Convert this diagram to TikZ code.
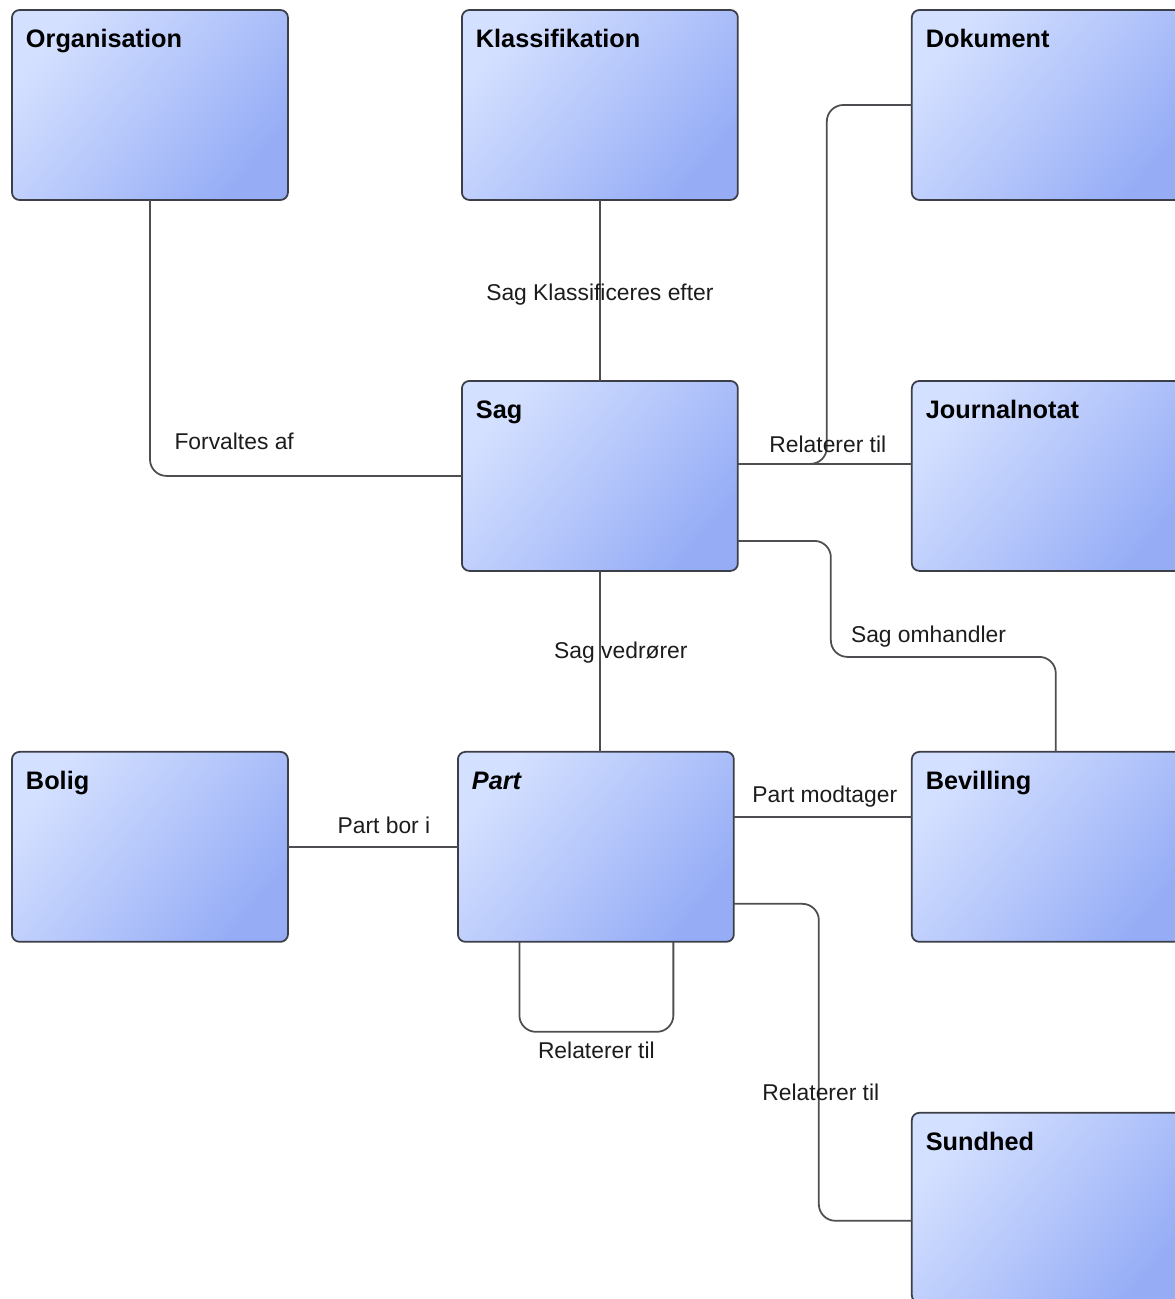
\documentclass[tikz,border=0pt]{standalone}
\usepackage{fontspec}
\setsansfont{Liberation Sans}
\usetikzlibrary{
  positioning,  % Function "of" (e.g. [right=of x])
  shadings,
}
\definecolor{boxlight}{RGB}{212,224,255}
\definecolor{boxdark}{RGB}{150,173,246}
\definecolor{boxline}{RGB}{60,62,72}
\definecolor{linkline}{RGB}{78,78,82}
\definecolor{labeltext}{RGB}{28,28,28}
\def\myvdist{3.62cm}
\def\myhdist{3.48cm}
\tikzset{
  font=\sffamily,
  my box/.style={
    draw=boxline,
    line width=1pt,
    rounded corners=1.5mm,
    top color=boxlight,
    bottom color=boxdark,
    shading angle=50,
    text width=4.96cm,
    text height=0.48cm,
    text depth=2.76cm,
    inner sep=0.28cm,
    outer sep=0pt,
    align=left,
    text=black,
    font=\sffamily\bfseries\fontsize{14.4}{16}\selectfont
  },
  my label/.style={
    text=labeltext,
    inner sep=0pt,
    font=\sffamily\fontsize{13}{15}\selectfont
  },
  my link/.style={
    draw=linkline,
    line width=1pt,
    rounded corners=0.33cm
  },
  diagram/.style={
    x=0.02cm,
    y=-0.02cm,
    node distance=\myvdist and \myhdist
  }
}

\begin{document}
\begin{tikzpicture}[diagram]
\useasboundingbox (0,0) rectangle (1174,1299);
% boxes
\node[my box, anchor=north west] (org) at (12,10) {Organisation};
\node[my box, right=of org] (kla) {Klassifikation};
\node[my box, right=of kla] (dok) {Dokument};
\node[my box, below=of kla] (sag) {Sag};
\node[my box, right=of sag] (jou) {Journalnotat};
\node[my box, below=of sag, xshift=-0.08cm] (part) {\itshape Part};
\node[my box, left=3.4cm of part] (bol) {Bolig};
\node[my box, below=of jou] (bev) {Bevilling};
\node[my box, below=3.42cm of bev] (sun) {Sundhed};
% links
\draw[my link] (org.south) |- node[my label, pos=0.635, yshift=0.7cm] {Forvaltes af} (sag.west);
\draw[my link] (kla.south) -- node[my label, yshift=-0.09cm] {Sag Klassificeres efter} (sag.north);
\draw[my link] (dok.west) -- ++(-85,0) |- ([yshift=0.24cm]sag.east);
\draw[my link] ([yshift=0.24cm]sag.east) -- node[my label, xshift=0.06cm, yshift=0.4cm] {Relaterer til} ([yshift=0.24cm]jou.west);
\draw[my link] ([yshift=-1.3cm]sag.east) -- ++(93,0) -- ++(0,116)
  -| node[my label, pos=0.217, yshift=0.4cm] {Sag omhandler} ([xshift=0.12cm]bev.north);
\draw[my link] (sag.south) -- node[my label, xshift=0.42cm, yshift=0.18cm] {Sag vedrører} (sag.south |- part.north);
\draw[my link] (bol.east) -- node[my label, xshift=0.22cm, yshift=0.44cm] {Part bor i} (part.west);
\draw[my link] ([yshift=0.6cm]part.east) -- node[my label, xshift=0.04cm, yshift=0.4cm] {Part modtager} ([yshift=0.6cm]bev.west);
\draw[my link] ([xshift=-1.53cm]part.south) -- ++(0,90)
  -| node[my label, pos=0.25, yshift=-0.38cm] {Relaterer til} ([xshift=1.55cm]part.south);
\draw[my link] ([yshift=-1.14cm]part.east) -- ++(85,0)
  |- node[my label, pos=0.297, xshift=0.04cm] {Relaterer til} ([yshift=-0.26cm]sun.west);
\end{tikzpicture}
\end{document}
